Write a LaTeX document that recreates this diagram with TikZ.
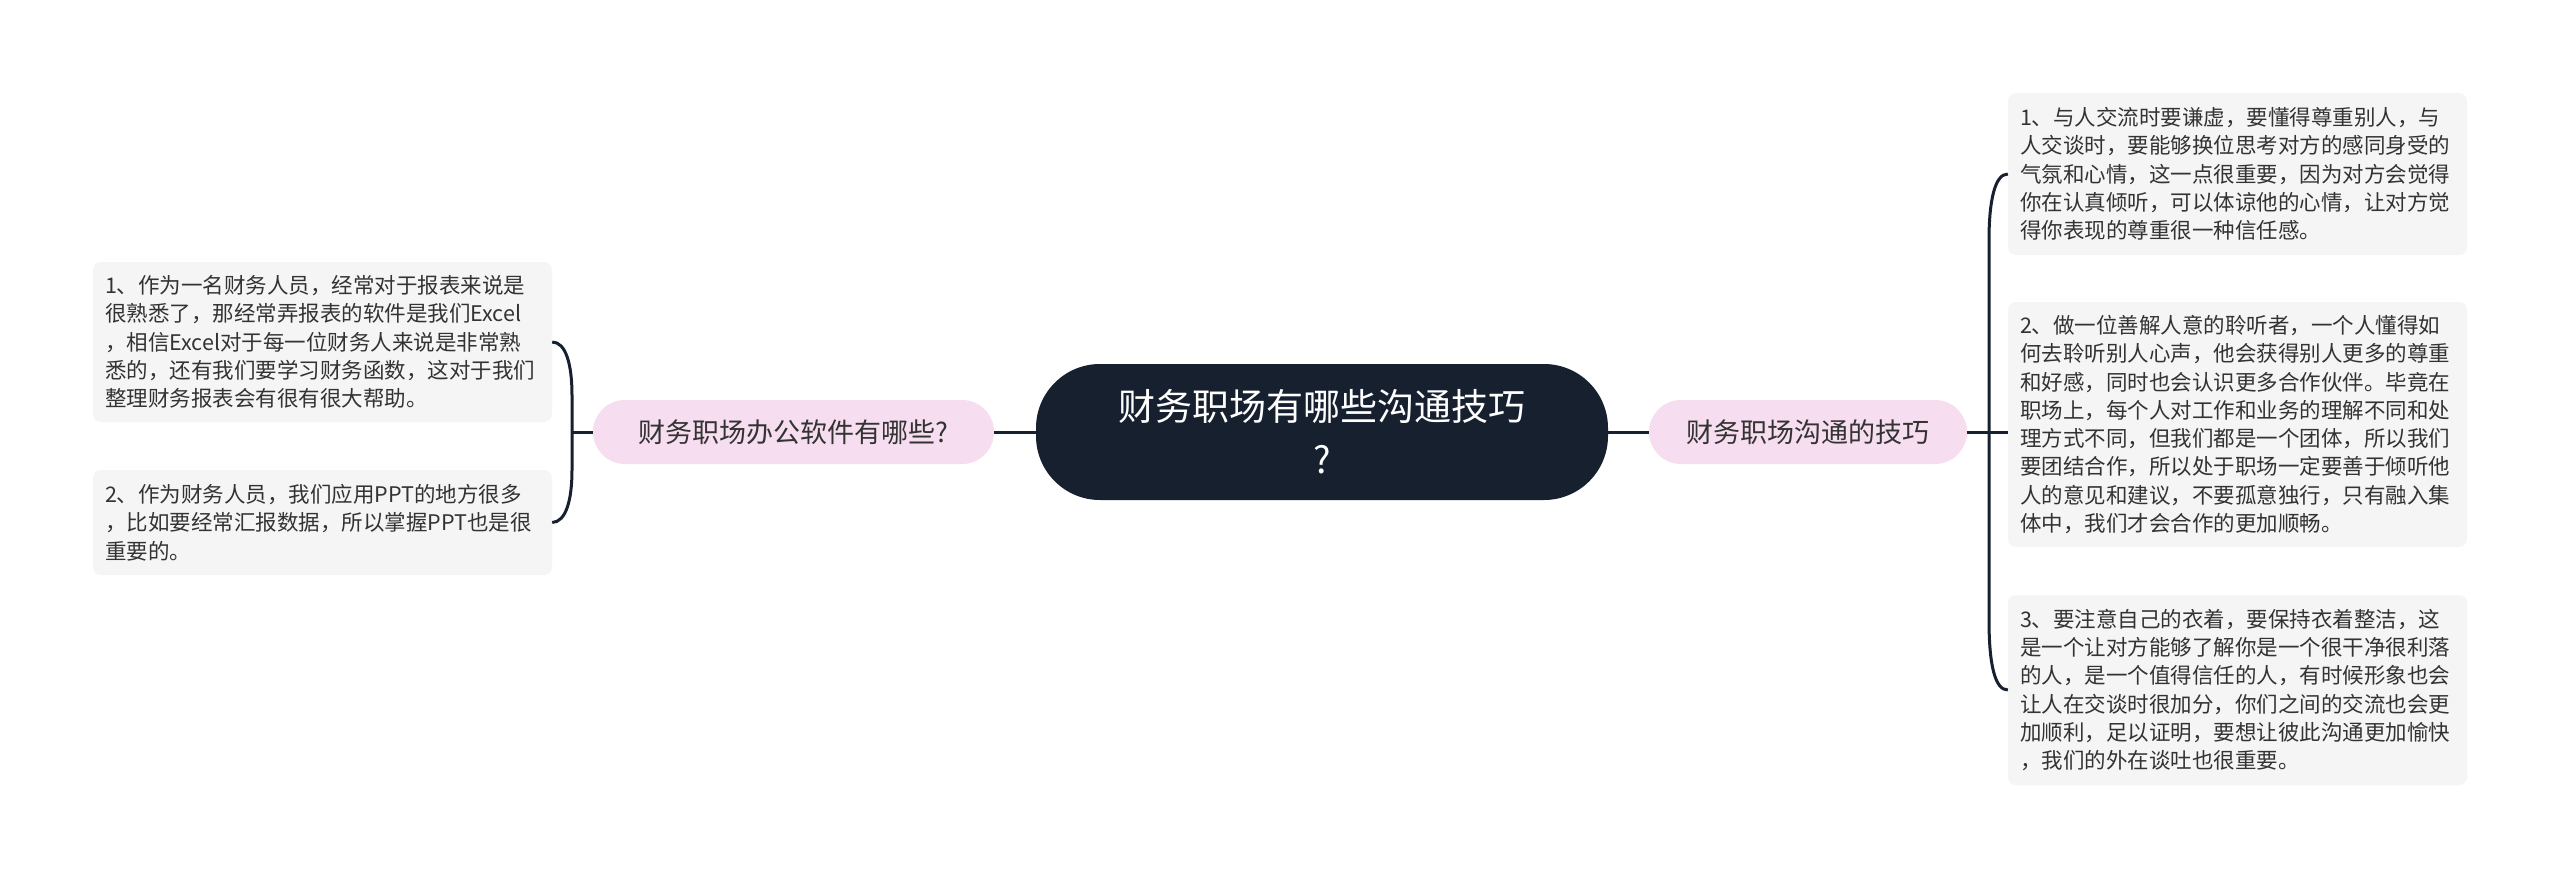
\documentclass[tikz,border=0pt]{standalone}
\usepackage{fontspec}
\setmainfont{Noto Sans CJK SC}
\definecolor{navy}{HTML}{16202F}
\definecolor{pinkfill}{HTML}{F6DDEF}
\definecolor{leaffill}{HTML}{F5F5F5}
\definecolor{leaftext}{HTML}{333333}
\begin{document}
\begin{tikzpicture}[x=1pt,y=-1pt,
  root/.style={fill=navy, rounded corners=64pt, minimum width=572pt, minimum height=136pt,
    text=white, font=\fontsize{37}{53}\selectfont, align=center, inner sep=0pt},
  topic/.style={fill=pinkfill, rounded corners=32pt, minimum height=64pt,
    font=\fontsize{27}{32}\selectfont, text=leaftext, inner sep=0pt},
  leaf/.style={fill=leaffill, rounded corners=8pt, text width=435pt, align=left,
    inner xsep=12pt, inner ysep=0pt, font=\fontsize{21.5}{28.3}\selectfont, text=leaftext},
  link/.style={draw=navy, line width=3pt}]
\path[use as bounding box, fill=white] (0,0) rectangle (2560,879);

\node[root] (root) at (1322,432) {财务职场有哪些沟通技巧\\?};
\node[topic, minimum width=401pt] (lt) at (793.5,432) {财务职场办公软件有哪些?};
\node[topic, minimum width=318pt] (rt) at (1808,432) {财务职场沟通的技巧};

\node[leaf, minimum height=160pt] (l1) at (322.5,342) {1、作为一名财务人员，经常对于报表来说是\\很熟悉了，那经常弄报表的软件是我们Excel\\，相信Excel对于每一位财务人来说是非常熟\\悉的，还有我们要学习财务函数，这对于我们\\整理财务报表会有很有很大帮助。};
\node[leaf, minimum height=105pt] (l2) at (322.5,522.5) {2、作为财务人员，我们应用PPT的地方很多\\，比如要经常汇报数据，所以掌握PPT也是很\\重要的。};

\node[leaf, minimum height=162pt] (r1) at (2237.5,174) {1、与人交流时要谦虚，要懂得尊重别人，与\\人交谈时，要能够换位思考对方的感同身受的\\气氛和心情，这一点很重要，因为对方会觉得\\你在认真倾听，可以体谅他的心情，让对方觉\\得你表现的尊重很一种信任感。};
\node[leaf, minimum height=245pt] (r2) at (2237.5,424.5) {2、做一位善解人意的聆听者，一个人懂得如\\何去聆听别人心声，他会获得别人更多的尊重\\和好感，同时也会认识更多合作伙伴。毕竟在\\职场上，每个人对工作和业务的理解不同和处\\理方式不同，但我们都是一个团体，所以我们\\要团结合作，所以处于职场一定要善于倾听他\\人的意见和建议，不要孤意独行，只有融入集\\体中，我们才会合作的更加顺畅。};
\node[leaf, minimum height=190pt] (r3) at (2237.5,690) {3、要注意自己的衣着，要保持衣着整洁，这\\是一个让对方能够了解你是一个很干净很利落\\的人，是一个值得信任的人，有时候形象也会\\让人在交谈时很加分，你们之间的交流也会更\\加顺利，足以证明，要想让彼此沟通更加愉快\\，我们的外在谈吐也很重要。};

\draw[link] (root.west) -- (lt.east);
\draw[link] (root.east) -- (rt.west);

\coordinate (lb) at (572,432);
\draw[link] (lt.west) -- (lb);
\draw[link] (l1.east) .. controls (566,342) and (572,365) .. (572,395) -- (572,470) .. controls (572,500) and (566,522) .. (l2.east);

\coordinate (rb) at (1989,432);
\draw[link] (rt.east) -- (rt.east -| r2.west);
\draw[link] (r1.west) .. controls (1995,174) and (1989,200) .. (1989,240) -- (1989,620) .. controls (1989,665) and (1995,690) .. (r3.west);
\end{tikzpicture}
\end{document}
